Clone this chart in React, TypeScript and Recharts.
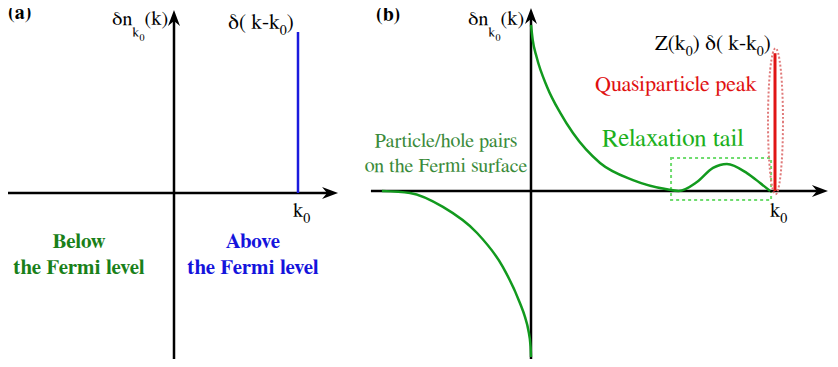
import { useLayoutEffect, useRef } from "react"
import { LineChart, Line, XAxis, YAxis, ReferenceLine, ReferenceArea, ReferenceDot } from "recharts"

const serif = "FreeSerif, 'Times New Roman', 'Liberation Serif', 'DejaVu Serif', serif"

// (a) free Fermi gas: one added particle sits exactly at k0
const deltaK = [1, 1]
const deltaV = [0, 1]

// (b) interacting gas: particle/hole pairs, relaxation tail, quasiparticle peak
const holeK = [-0.611, -0.496, -0.361, -0.221, -0.115, -0.045, -0.025, -0.011, -0.0016, 0]
const holeV = [0, -0.012, -0.096, -0.253, -0.458, -0.676, -0.757, -0.837, -0.938, -1.0]
const tailK = [0, 0.007, 0.023, 0.066, 0.12, 0.172, 0.283, 0.418, 0.557, 0.605, 0.68, 0.746, 0.803, 0.885, 0.939, 0.98]
const tailV = [1.0, 0.91, 0.807, 0.627, 0.47, 0.349, 0.169, 0.066, 0.01, 0, 0.054, 0.139, 0.163, 0.108, 0.048, 0]
const peakK = [1, 1]
const peakV = [0, 0.83]

const zip = (ks: number[], vs: number[]) => ks.map((k, i) => ({ k, v: vs[i] }))

function ArrowLine(props: any) {
  const { x1, y1, x2, y2 } = props
  const dx = x2 - x1
  const dy = y2 - y1
  const len = Math.hypot(dx, dy)
  const ux = dx / len
  const uy = dy / len
  const px = -uy
  const py = ux
  const L = 16, W = 6, N = 11
  const bx = x2 - ux * L
  const by = y2 - uy * L
  const nx = x2 - ux * N
  const ny = y2 - uy * N
  return (
    <g>
      <line x1={x1} y1={y1} x2={nx} y2={ny} stroke="#000" strokeWidth={2.5} />
      <polygon
        points={`${x2},${y2} ${bx + px * W},${by + py * W} ${nx},${ny} ${bx - px * W},${by - py * W}`}
        fill="#000"
      />
    </g>
  )
}

function DeltaN({ x, y }: { x: number; y: number }) {
  return (
    <text x={x} y={y} fontFamily={serif} fontSize={20} fill="#000">
      δn
      <tspan fontSize={14} dy={12}>k</tspan>
      <tspan fontSize={10} dy={4}>0</tspan>
      <tspan fontSize={20} dy={-16}>(k)</tspan>
    </text>
  )
}

function K0({ x, y }: { x: number; y: number }) {
  return (
    <text x={x} y={y} fontFamily={serif} fontSize={20} fill="#000">
      k<tspan fontSize={14} dy={6}>0</tspan>
    </text>
  )
}

// labels drawn over both panels
function Notes() {
  const ref = useRef<SVGSVGElement>(null)
  useLayoutEffect(() => {
    ref.current?.querySelectorAll("text, tspan").forEach((el) => {
      ;(el as SVGElement).style.setProperty("font-family", serif, "important")
    })
  }, [])
  return (
    <svg ref={ref} width={838} height={367} style={{ position: "absolute", left: 0, top: 0, pointerEvents: "none" }}>
      <text x={8} y={19} fontFamily={serif} fontSize={20} fontWeight="bold">(a)</text>
      <DeltaN x={112} y={25} />
      <text x={228} y={29} fontFamily={serif} fontSize={21} fill="#000">
        δ( k-k<tspan fontSize={14} dy={6}>0</tspan><tspan dy={-6}>)</tspan>
      </text>
      <K0 x={293} y={217} />
      <text x={79} y={248} fontFamily={serif} fontSize={21} fontWeight="bold" textAnchor="middle" fill="#198019">Below</text>
      <text x={79} y={274} fontFamily={serif} fontSize={21} fontWeight="bold" textAnchor="middle" fill="#198019">the Fermi level</text>
      <text x={253} y={248} fontFamily={serif} fontSize={21} fontWeight="bold" textAnchor="middle" fill="#1414dc">Above</text>
      <text x={253} y={274} fontFamily={serif} fontSize={21} fontWeight="bold" textAnchor="middle" fill="#1414dc">the Fermi level</text>

      <text x={376} y={21} fontFamily={serif} fontSize={20} fontWeight="bold">(b)</text>
      <DeltaN x={468} y={25} />
      <text x={655} y={50} fontFamily={serif} fontSize={21} fill="#000">
        Z(k<tspan fontSize={14} dy={6}>0</tspan><tspan dy={-6}>) δ( k-k</tspan>
        <tspan fontSize={14} dy={6}>0</tspan><tspan dy={-6}>)</tspan>
      </text>
      <text x={595} y={91} fontFamily={serif} fontSize={22} fill="#e01010">Quasiparticle peak</text>
      <text x={602} y={146} fontFamily={serif} fontSize={25} fill="#1cb01c">Relaxation tail</text>
      <text x={446} y={147} fontFamily={serif} fontSize={20} fill="#3a8a3a" textAnchor="middle">Particle/hole pairs</text>
      <text x={446} y={172} fontFamily={serif} fontSize={20} fill="#3a8a3a" textAnchor="middle">on the Fermi surface</text>
      <K0 x={770} y={217} />
      <text x={833} y={199} fontFamily={serif} fontSize={20} fill="#000">k</text>
    </svg>
  )
}

export default function App() {
  return (
    <div style={{ position: "relative", width: 838, height: 367, margin: -8, background: "#fff", overflow: "hidden" }}>
      <div style={{ position: "absolute", left: 0, top: 0 }}>
        <LineChart width={360} height={367} margin={{ top: 0, right: 0, bottom: 0, left: 0 }}>
          <XAxis type="number" dataKey="k" domain={[-1.4032, 1.5]} allowDataOverflow hide />
          <YAxis type="number" dataKey="v" domain={[-1.0807, 1.1988]} allowDataOverflow hide />
          <ReferenceLine segment={[{ x: -1.347, y: 0 }, { x: 1.323, y: 0 }]} shape={ArrowLine} />
          <ReferenceLine segment={[{ x: 0, y: -1.05 }, { x: 0, y: 1.137 }]} shape={ArrowLine} />
          <Line data={zip(deltaK, deltaV)} dataKey="v" type="linear" stroke="#1a1add" strokeWidth={2.5} dot={false} activeDot={false} isAnimationActive={false} />
        </LineChart>
      </div>
      <div style={{ position: "absolute", left: 360, top: 0 }}>
        <LineChart width={478} height={367} margin={{ top: 0, right: 0, bottom: 0, left: 0 }}>
          <XAxis type="number" dataKey="k" domain={[-0.7008, 1.2582]} allowDataOverflow hide />
          <YAxis type="number" dataKey="v" domain={[-1.0602, 1.1506]} allowDataOverflow hide />
          <ReferenceLine segment={[{ x: -0.656, y: 0 }, { x: 1.217, y: 0 }]} shape={ArrowLine} />
          <ReferenceLine segment={[{ x: 0, y: -1.018 }, { x: 0, y: 1.102 }]} shape={ArrowLine} />
          <ReferenceArea x1={0.574} x2={0.984} y1={-0.054} y2={0.199} fill="none" stroke="#6fdc6f" strokeWidth={2} strokeDasharray="3 3" />
          <Line data={zip(holeK, holeV)} dataKey="v" type="monotone" stroke="#129a1e" strokeWidth={2.5} dot={false} activeDot={false} isAnimationActive={false} />
          <Line data={zip(tailK, tailV)} dataKey="v" type="monotone" stroke="#129a1e" strokeWidth={2.5} dot={false} activeDot={false} isAnimationActive={false} />
          <Line data={zip(peakK, peakV)} dataKey="v" type="linear" stroke="#e01515" strokeWidth={3} dot={false} activeDot={false} isAnimationActive={false} />
          <ReferenceDot
            x={1.002}
            y={0.42}
            shape={(p: any) => (
              <ellipse cx={p.cx} cy={p.cy} rx={7.5} ry={73} fill="none" stroke="#e07a7a" strokeWidth={2} strokeDasharray="2 2" />
            )}
          />
        </LineChart>
      </div>
      <Notes />
    </div>
  )
}
